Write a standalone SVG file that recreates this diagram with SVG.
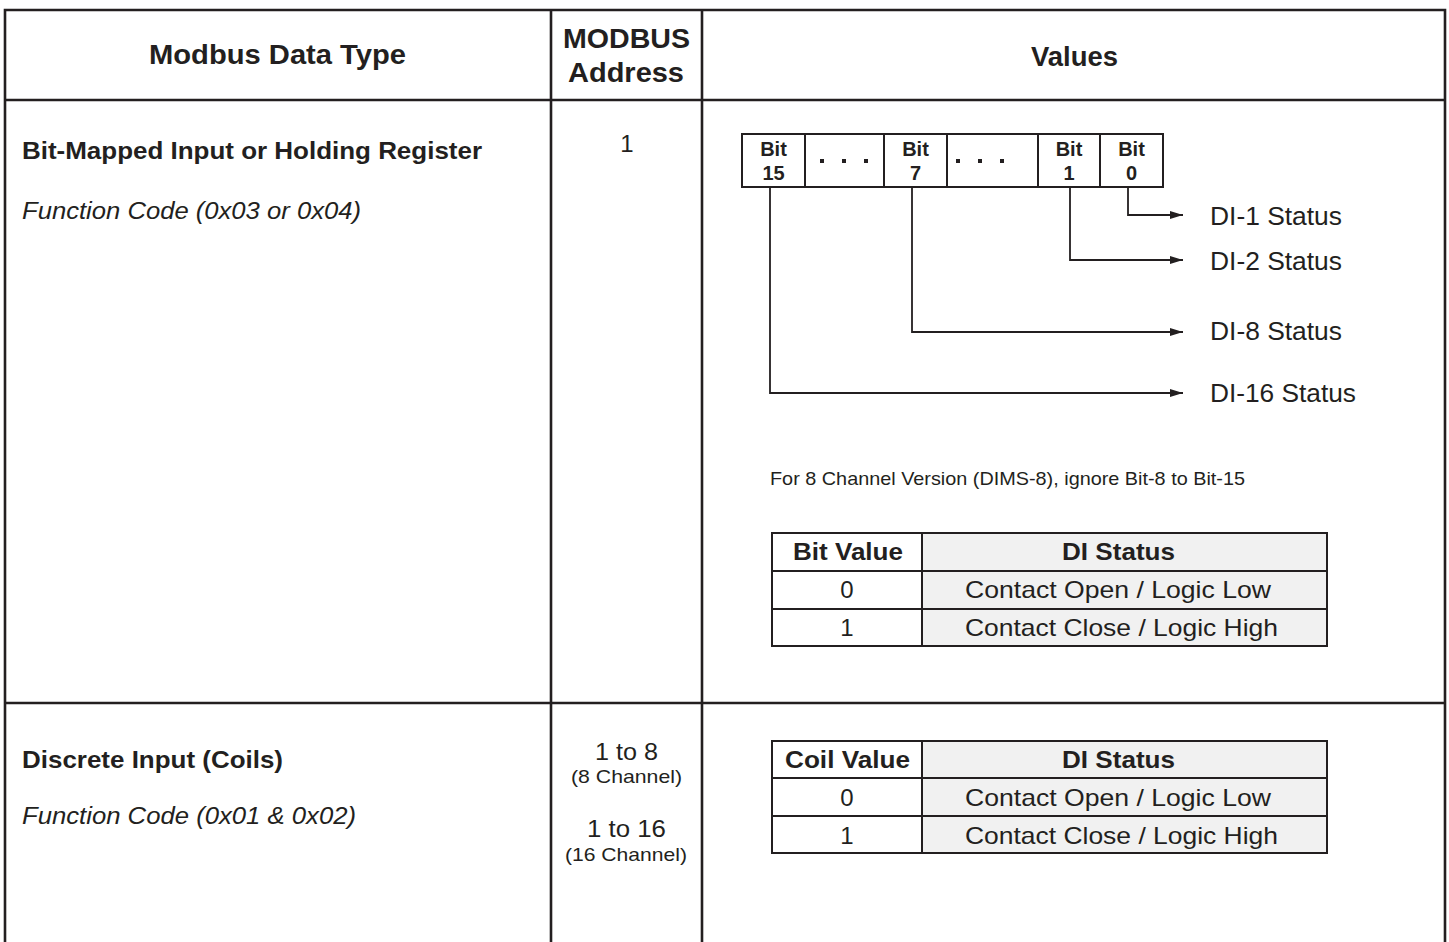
<svg xmlns="http://www.w3.org/2000/svg" width="1449" height="942" viewBox="0 0 1449 942">
<defs>
<style>
text{font-family:"Liberation Sans",Arial,Helvetica,sans-serif;fill:#231f20}
.b{font-weight:bold}
.i{font-style:italic}
.grid{stroke:#231f20;stroke-width:2.6;fill:none}
.box{stroke:#231f20;stroke-width:2;fill:#fff}
.gray{stroke:#231f20;stroke-width:2;fill:#f1f1f1}
.conn{stroke:#231f20;stroke-width:1.8;fill:none}
.dot{fill:#231f20}
.m{text-anchor:middle}
</style>
<marker id="arr" markerUnits="userSpaceOnUse" markerWidth="14" markerHeight="9" refX="13" refY="4" orient="auto">
<path d="M0,0 L13,4 L0,8 z" fill="#231f20"/>
</marker>
</defs>
<rect width="1449" height="942" fill="#fff"/>

<g id="frame">
<path class="grid" d="M5,942 V10 H1445 V942 M5,100 H1445 M5,703 H1445 M551,10 V942 M702,10 V942"/>
</g>

<g id="header">
<text class="b m" x="277.5" y="64" font-size="28" textLength="257" lengthAdjust="spacingAndGlyphs">Modbus Data Type</text>
<text class="b m" x="626.5" y="48" font-size="28" textLength="127" lengthAdjust="spacingAndGlyphs">MODBUS</text>
<text class="b m" x="626" y="82" font-size="28" textLength="116" lengthAdjust="spacingAndGlyphs">Address</text>
<text class="b m" x="1074.5" y="66" font-size="28" textLength="87" lengthAdjust="spacingAndGlyphs">Values</text>
</g>

<g id="row1-type">
<text class="b" x="22" y="159" font-size="24" textLength="460" lengthAdjust="spacingAndGlyphs">Bit-Mapped Input or Holding Register</text>
<text class="i" x="22" y="219" font-size="24" textLength="339" lengthAdjust="spacingAndGlyphs">Function Code (0x03 or 0x04)</text>
</g>
<g id="row1-address">
<text class="m" x="627" y="152" font-size="24">1</text>
</g>

<g id="register">
<rect class="box" x="742" y="134" width="63" height="53"/>
<rect class="box" x="805" y="134" width="79" height="53"/>
<rect class="box" x="884" y="134" width="63" height="53"/>
<rect class="box" x="947" y="134" width="91" height="53"/>
<rect class="box" x="1038" y="134" width="62" height="53"/>
<rect class="box" x="1100" y="134" width="63" height="53"/>
<g class="b m" font-size="20">
<text x="773.5" y="156">Bit</text><text x="773.5" y="180">15</text>
<text x="915.5" y="156">Bit</text><text x="915.5" y="180">7</text>
<text x="1069" y="156">Bit</text><text x="1069" y="180">1</text>
<text x="1131.5" y="156">Bit</text><text x="1131.5" y="180">0</text>
</g>
<rect class="dot" x="820" y="159" width="4" height="4"/>
<rect class="dot" x="842" y="159" width="4" height="4"/>
<rect class="dot" x="864" y="159" width="4" height="4"/>
<rect class="dot" x="956" y="159" width="4" height="4"/>
<rect class="dot" x="978" y="159" width="4" height="4"/>
<rect class="dot" x="1000" y="159" width="4" height="4"/>
</g>

<g id="connectors">
<path class="conn" d="M1128,187 V215 H1183" marker-end="url(#arr)"/>
<path class="conn" d="M1070,187 V260 H1183" marker-end="url(#arr)"/>
<path class="conn" d="M912,187 V332 H1183" marker-end="url(#arr)"/>
<path class="conn" d="M770,187 V393 H1183" marker-end="url(#arr)"/>
</g>

<g id="status-labels" font-size="25">
<text id="di1" x="1210" y="225" textLength="132" lengthAdjust="spacingAndGlyphs">DI-1 Status</text>
<text id="di2" x="1210" y="270" textLength="132" lengthAdjust="spacingAndGlyphs">DI-2 Status</text>
<text id="di8" x="1210" y="340" textLength="132" lengthAdjust="spacingAndGlyphs">DI-8 Status</text>
<text id="di16" x="1210" y="402" textLength="146" lengthAdjust="spacingAndGlyphs">DI-16 Status</text>
</g>

<g id="note">
<text x="770" y="485" font-size="19" textLength="475" lengthAdjust="spacingAndGlyphs">For 8 Channel Version (DIMS-8), ignore Bit-8 to Bit-15</text>
</g>

<g id="bit-table">
<rect class="box" x="772" y="533" width="150" height="38"/>
<rect class="gray" x="922" y="533" width="405" height="38"/>
<rect class="box" x="772" y="571" width="150" height="38"/>
<rect class="gray" x="922" y="571" width="405" height="38"/>
<rect class="box" x="772" y="609" width="150" height="37"/>
<rect class="gray" x="922" y="609" width="405" height="37"/>
<text class="b m" x="848" y="560" font-size="24" textLength="110" lengthAdjust="spacingAndGlyphs">Bit Value</text>
<text class="b m" x="1118.5" y="560" font-size="24" textLength="113" lengthAdjust="spacingAndGlyphs">DI Status</text>
<text class="m" x="847" y="598" font-size="24">0</text>
<text class="m" x="1118" y="598" font-size="24" textLength="306" lengthAdjust="spacingAndGlyphs">Contact Open / Logic Low</text>
<text class="m" x="847" y="636" font-size="24">1</text>
<text class="m" x="1121.5" y="636" font-size="24" textLength="313" lengthAdjust="spacingAndGlyphs">Contact Close / Logic High</text>
</g>

<g id="row2-type">
<text class="b" x="22" y="768" font-size="24" textLength="261" lengthAdjust="spacingAndGlyphs">Discrete Input (Coils)</text>
<text class="i" x="22" y="824" font-size="24" textLength="334" lengthAdjust="spacingAndGlyphs">Function Code (0x01 &amp; 0x02)</text>
</g>
<g id="row2-address">
<text class="m" x="626.5" y="760" font-size="24" textLength="63" lengthAdjust="spacingAndGlyphs">1 to 8</text>
<text class="m" x="626.5" y="783" font-size="19" textLength="111" lengthAdjust="spacingAndGlyphs">(8 Channel)</text>
<text class="m" x="626.5" y="837" font-size="24" textLength="79" lengthAdjust="spacingAndGlyphs">1 to 16</text>
<text class="m" x="626" y="861" font-size="19" textLength="122" lengthAdjust="spacingAndGlyphs">(16 Channel)</text>
</g>

<g id="coil-table">
<rect class="box" x="772" y="741" width="150" height="37"/>
<rect class="gray" x="922" y="741" width="405" height="37"/>
<rect class="box" x="772" y="778" width="150" height="38"/>
<rect class="gray" x="922" y="778" width="405" height="38"/>
<rect class="box" x="772" y="816" width="150" height="37"/>
<rect class="gray" x="922" y="816" width="405" height="37"/>
<text class="b m" x="847.5" y="768" font-size="24" textLength="125" lengthAdjust="spacingAndGlyphs">Coil Value</text>
<text class="b m" x="1118.5" y="768" font-size="24" textLength="113" lengthAdjust="spacingAndGlyphs">DI Status</text>
<text class="m" x="847" y="806" font-size="24">0</text>
<text class="m" x="1118" y="806" font-size="24" textLength="306" lengthAdjust="spacingAndGlyphs">Contact Open / Logic Low</text>
<text class="m" x="847" y="844" font-size="24">1</text>
<text class="m" x="1121.5" y="844" font-size="24" textLength="313" lengthAdjust="spacingAndGlyphs">Contact Close / Logic High</text>
</g>
</svg>
